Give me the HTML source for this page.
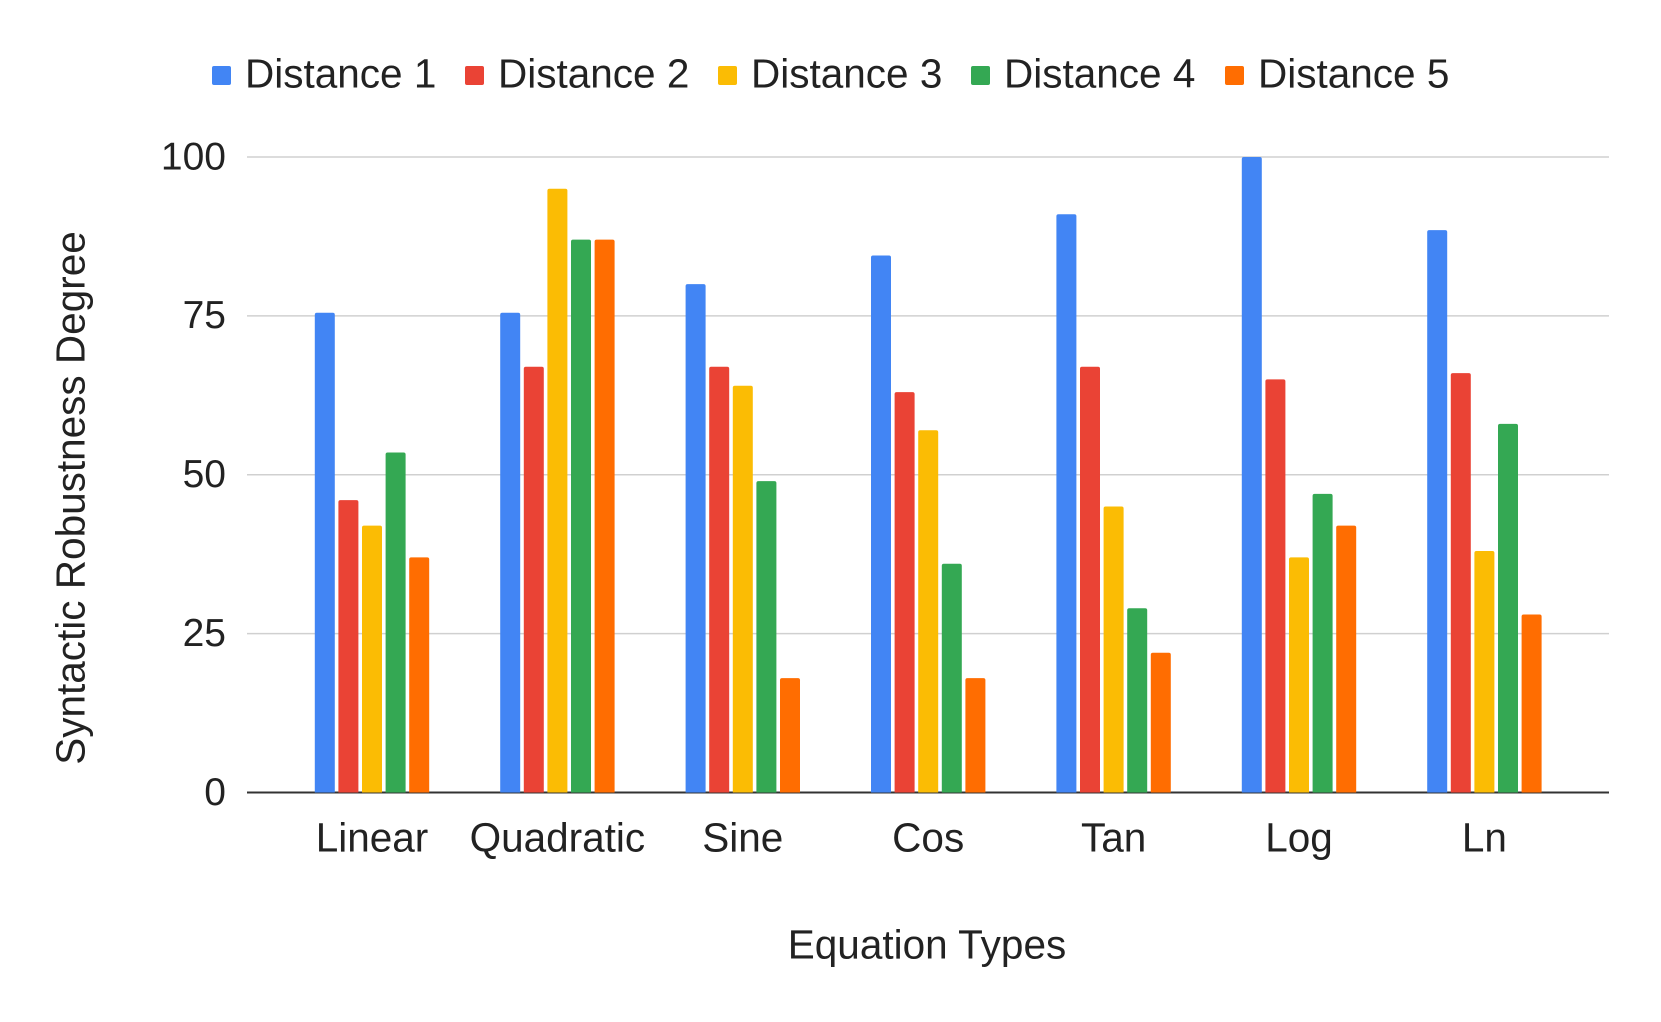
<!DOCTYPE html>
<html><head><meta charset="utf-8"><style>
html,body{margin:0;padding:0;background:#fff;}
svg{display:block;font-family:"Liberation Sans",Arial,sans-serif;}
</style></head><body>
<svg id="chart" width="1661" height="1022" viewBox="0 0 1661 1022">
<g id="grid"></g><g id="bars"></g><g id="labels"></g><g id="legend"></g>
<text x="74" y="498" transform="rotate(-90 74 498)" text-anchor="middle" dominant-baseline="middle" font-size="40.5" fill="#222">Syntactic Robustness Degree</text>
<text x="927" y="948" text-anchor="middle" dominant-baseline="middle" font-size="40.5" fill="#222">Equation Types</text>
</svg>
<script>
const categories = ["Linear","Quadratic","Sine","Cos","Tan","Log","Ln"];
const seriesNames = ["Distance 1","Distance 2","Distance 3","Distance 4","Distance 5"];
const d1 = [75.5, 75.5, 80, 84.5, 91, 100, 88.5];
const d2 = [46, 67, 67, 63, 67, 65, 66];
const d3 = [42, 95, 64, 57, 45, 37, 38];
const d4 = [53.5, 87, 49, 36, 29, 47, 58];
const d5 = [37, 87, 18, 18, 22, 42, 28];
const yTicks = [0, 25, 50, 75, 100];
const colors = ["#4285f4","#ea4335","#fbbc04","#34a853","#ff6d01"];

const NS = "http://www.w3.org/2000/svg";
const series = [d1,d2,d3,d4,d5];
const left = 247, right = 1609, y0 = 792.5, y100 = 157;
function yScale(v){ return y0 + (y100 - y0) * v / 100; }
function xCenter(i){ return 372 + i * 185.4; }
function mk(tag, attrs, parent){ const e = document.createElementNS(NS, tag); for (const k in attrs) e.setAttribute(k, attrs[k]); parent.appendChild(e); return e; }

const grid = document.getElementById('grid');
yTicks.forEach(t => {
  const y = yScale(t);
  const ln = mk('line', {x1:left, x2:right, y1:y, y2:y, stroke: t===0 ? '#333' : '#d0d0d0', 'stroke-width': t===0 ? 2 : 1.5}, grid);
  
  
  const tx = mk('text', {x:226, y:y+2, 'text-anchor':'end', 'dominant-baseline':'middle', 'font-size':39, fill:'#222'}, grid);
  tx.textContent = t;
  
  
});

const bars = document.getElementById('bars');
const labels = document.getElementById('labels');
const pitch = 23.6, bw = 20;
categories.forEach((c, i) => {
  const cx = xCenter(i);
  series.forEach((s, j) => {
    const x = cx + (j - 2) * pitch - bw / 2;
    const y = yScale(s[i]);
    const r = mk('path', {d:`M${x},${y0} L${x},${y+2} Q${x},${y} ${x+2},${y} L${x+bw-2},${y} Q${x+bw},${y} ${x+bw},${y+2} L${x+bw},${y0} Z`, fill: colors[j]}, bars);
    
    
  });
  const t = mk('text', {x:cx, y:841, 'text-anchor':'middle', 'dominant-baseline':'middle', 'font-size':40.5, fill:'#222'}, labels);
  t.textContent = c;
  
  
});

const legend = document.getElementById('legend');
const lx = [212, 465, 718, 971, 1225];
seriesNames.forEach((n, j) => {
  const g = mk('g', {}, legend);
  
  
  mk('rect', {x:lx[j], y:66, width:19, height:19, rx:2, fill:colors[j]}, g);
  const t = mk('text', {x:lx[j]+33, y:77, 'dominant-baseline':'middle', 'font-size':40.5, fill:'#222'}, g);
  t.textContent = n;
});
</script>
</body></html>
